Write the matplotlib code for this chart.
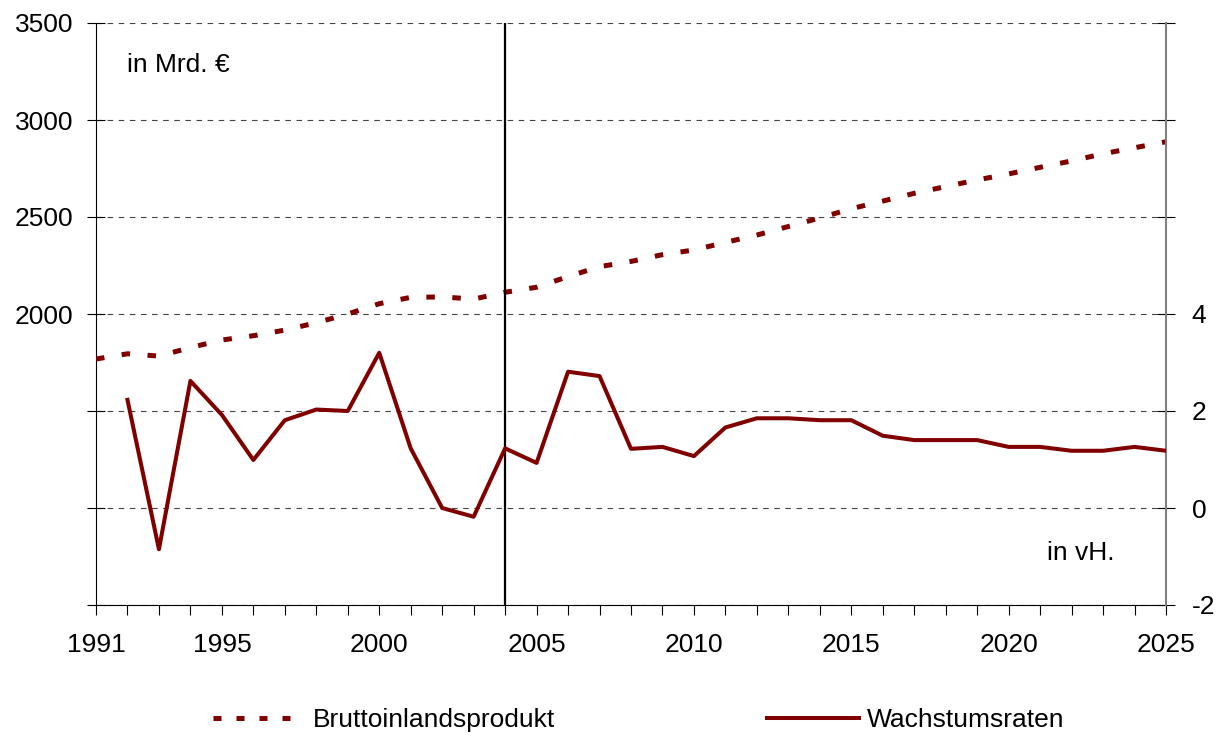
import numpy as np
import matplotlib
matplotlib.use("Agg")
import matplotlib.pyplot as plt
from matplotlib.lines import Line2D

plt.rcParams['font.family'] = ['Liberation Sans', 'DejaVu Sans']

# Daten
years = np.arange(1991, 2026)
bip = [1768, 1795, 1783, 1827, 1866, 1888, 1917, 1955, 2000, 2053,
       2086, 2088, 2077, 2112, 2138, 2193, 2244, 2271, 2306, 2330,
       2369, 2407, 2451, 2495, 2543, 2582, 2622, 2657, 2691, 2722,
       2756, 2789, 2826, 2857, 2888]
wachstum_jahre = np.arange(1992, 2026)
wachstum = [2.23, -0.85, 2.62, 1.92, 0.99, 1.81, 2.03, 2.00, 3.20, 1.23,
            0.00, -0.18, 1.23, 0.93, 2.81, 2.72, 1.22, 1.26, 1.07, 1.66,
            1.85, 1.85, 1.81, 1.81, 1.49, 1.40, 1.40, 1.40, 1.26, 1.26,
            1.18, 1.18, 1.26, 1.18]
jahr_labels = [1991, 1995, 2000, 2005, 2010, 2015, 2020, 2025]
links_labels = [2000, 2500, 3000, 3500]
rechts_labels = [-2, 0, 2, 4]

farbe = '#800000'
fs = 19

fig = plt.figure(figsize=(12.23, 7.4), dpi=100)
ax = fig.add_axes([96/1223, 1 - 605/740, 1070/1223, 582/740])
ax2 = ax.twinx()

# BIP (linke Achse)
ax.plot(years, bip, color=farbe, lw=3.6, linestyle=(0, (1.7, 3.5)),
        dash_capstyle='butt', zorder=3)
ax.set_xlim(1991, 2025)
ax.set_ylim(500, 3500)
lticks = np.arange(500, 3501, 500)
ax.set_yticks(lticks)
ax.set_yticklabels([str(t) if t in links_labels else '' for t in lticks])
ax.set_xticks(years)
ax.set_xticklabels([str(y) if y in jahr_labels else '' for y in years])
ax.yaxis.grid(True, color='#444444', lw=0.8, linestyle=(0, (5, 5)))
ax.set_axisbelow(True)
ax.tick_params(axis='y', direction='inout', length=13, width=0.8,
               labelsize=fs, pad=10)
ax.tick_params(axis='x', direction='out', length=7, width=0.8,
               labelsize=fs, pad=13)
ax.spines['top'].set_visible(False)
ax.spines['right'].set_visible(False)

ax.axvline(2004, color='black', lw=1.6, zorder=4)

# Wachstumsraten (rechte Achse)
ax2.plot(wachstum_jahre, wachstum, color=farbe, lw=2.9, zorder=3)
ax2.set_ylim(-2, 10)
rticks = np.arange(-2, 11, 2)
ax2.set_yticks(rticks)
ax2.set_yticklabels([str(t) if t in rechts_labels else '' for t in rticks])
ax2.tick_params(axis='y', direction='inout', length=13, width=0.8,
                labelsize=fs, pad=12)
for s in ['top', 'left', 'bottom']:
    ax2.spines[s].set_visible(False)
ax2.spines['right'].set_color('#808080')
ax2.spines['right'].set_linewidth(1.5)

ax.text(0.029, 0.928, 'in Mrd. €', transform=ax.transAxes, fontsize=fs,
        va='center', ha='left')
ax.text(0.889, 0.089, 'in vH.', transform=ax.transAxes, fontsize=fs,
        va='center', ha='left')

handles = [Line2D([], [], color=farbe, lw=3.6, linestyle=(0, (1.6, 3.0)),
                  dash_capstyle='butt'),
           Line2D([], [], color=farbe, lw=2.9)]
fig.legend(handles, ['Bruttoinlandsprodukt', 'Wachstumsraten'],
           loc='center left', bbox_to_anchor=(213/1223, 1 - 720/740),
           ncol=2, frameon=False, fontsize=fs, handlelength=3.5,
           handletextpad=0.3, columnspacing=8.0, borderpad=0,
           borderaxespad=0)

fig.savefig('out.png', dpi=100)
